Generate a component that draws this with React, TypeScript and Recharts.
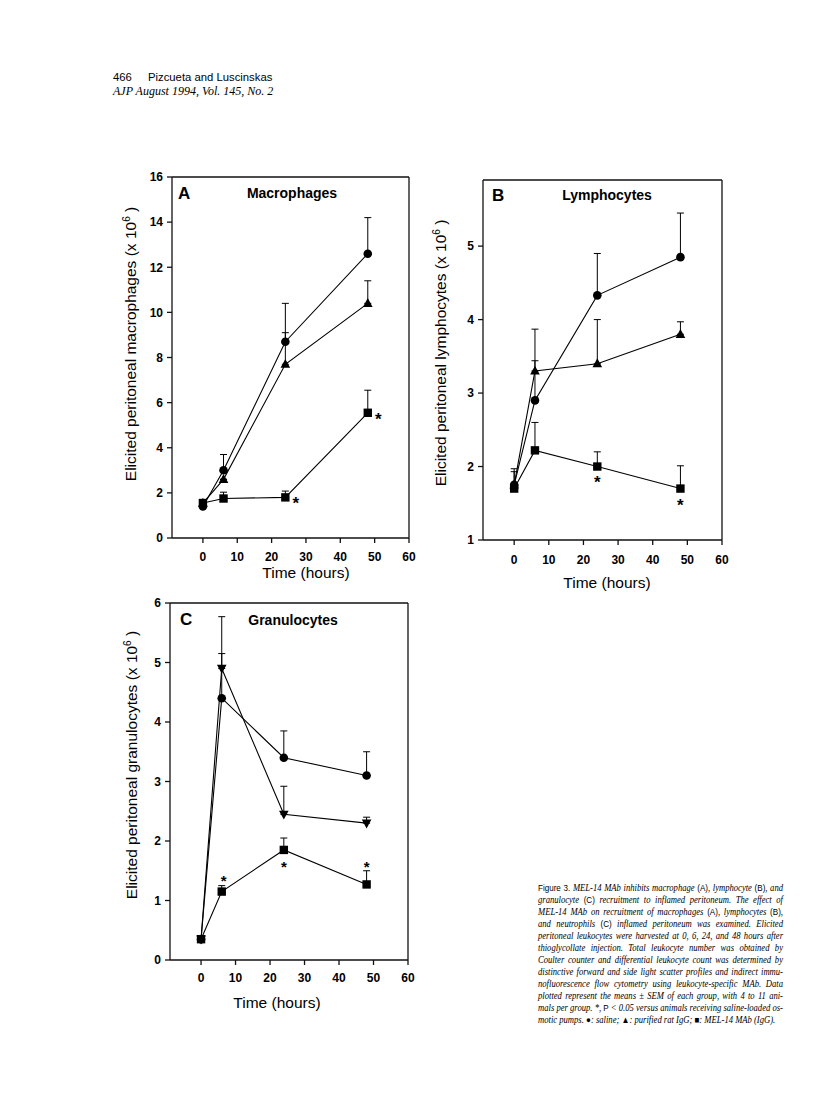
import React from 'react';
import { LineChart, Line, XAxis, YAxis, ErrorBar, LabelList } from 'recharts';

const hours = [0, 6, 24, 48];
const timeTicks = [0, 10, 20, 30, 40, 50, 60];

// A: macrophages (x 10^6)
const macTicks = [0, 2, 4, 6, 8, 10, 12, 14, 16];
const macSaline = [1.4, 3.0, 8.7, 12.6];
const macSalineSem = [0, 0.7, 1.7, 1.6];
const macIgG = [1.55, 2.6, 7.7, 10.4];
const macIgGSem = [0, 0, 1.4, 1.0];
const macMel = [1.55, 1.75, 1.8, 5.55];
const macMelSem = [0, 0.28, 0.28, 1.0];
const macMelSig = [false, false, true, true];

// B: lymphocytes (x 10^6)
const lymTicks = [1, 2, 3, 4, 5];
const lymSaline = [1.75, 2.9, 4.33, 4.85];
const lymSalineSem = [0.18, 0.54, 0.57, 0.6];
const lymIgG = [1.75, 3.3, 3.4, 3.8];
const lymIgGSem = [0.22, 0.57, 0.6, 0.17];
const lymMel = [1.7, 2.22, 2.0, 1.7];
const lymMelSem = [0, 0.38, 0.2, 0.31];
const lymMelSig = [false, false, true, true];

// C: granulocytes (x 10^6)
const graTicks = [0, 1, 2, 3, 4, 5, 6];
const graSaline = [0.35, 4.4, 3.4, 3.1];
const graSalineSem = [0, 0.75, 0.45, 0.4];
const graIgG = [0.35, 4.9, 2.45, 2.3];
const graIgGSem = [0, 0.87, 0.47, 0.1];
const graMel = [0.35, 1.15, 1.85, 1.27];
const graMelSem = [0, 0.1, 0.2, 0.23];
const graMelSig = [false, true, true, true];

const captionLines = [
  'Figure 3. MEL-14 MAb inhibits macrophage (A), lymphocyte (B), and',
  'granulocyte (C) recruitment to inflamed peritoneum. The effect of',
  'MEL-14 MAb on recruitment of macrophages (A), lymphocytes (B),',
  'and neutrophils (C) inflamed peritoneum was examined. Elicited',
  'peritoneal leukocytes were harvested at 0, 6, 24, and 48 hours after',
  'thioglycollate injection. Total leukocyte number was obtained by',
  'Coulter counter and differential leukocyte count was determined by',
  'distinctive forward and side light scatter profiles and indirect immu-',
  'nofluorescence flow cytometry using leukocyte-specific MAb. Data',
  'plotted represent the means \u00b1 SEM of each group, with 4 to 11 ani-',
  'mals per group. *, P < 0.05 versus animals receiving saline-loaded os-',
  'motic pumps. \u25cf: saline; \u25b2: purified rat IgG; \u25a0: MEL-14 MAb (IgG).',
];

const SANS = '"Liberation Sans", Arial, sans-serif';
const SERIF = '"Liberation Serif", "Times New Roman", serif';
const INK = '#111';

type Shape = 'circle' | 'triangle' | 'square' | 'down';
type Series = { key: string; values: number[]; sem: number[]; shape: Shape; sig?: boolean[] };

function buildRows(series: Series[]) {
  return hours.map((t, i) => {
    const row: any = { t };
    series.forEach((s) => {
      row[s.key] = s.values[i];
      row[s.key + 'Err'] = [0, s.sem[i]];
      if (s.sig) row[s.key + 'Sig'] = s.sig[i] ? '*' : '';
    });
    return row;
  });
}

const marker = (shape: Shape) => (p: any) => {
  const { cx, cy, index } = p;
  if (cx == null || cy == null) return <g key={index} />;
  if (shape === 'circle') return <circle key={index} cx={cx} cy={cy} r={4.3} fill="#000" />;
  if (shape === 'square') return <rect key={index} x={cx - 4.2} y={cy - 4.2} width={8.4} height={8.4} fill="#000" />;
  if (shape === 'triangle')
    return <path key={index} d={`M${cx},${cy - 5.3}L${cx + 4.8},${cy + 3.6}L${cx - 4.8},${cy + 3.6}Z`} fill="#000" />;
  return <path key={index} d={`M${cx},${cy + 5.3}L${cx + 4.8},${cy - 3.6}L${cx - 4.8},${cy - 3.6}Z`} fill="#000" />;
};

const starContent = (offsets: number[][], size: number) => (p: any) => {
  const { x, y, value, index } = p;
  if (!value) return null;
  const o = offsets[index] || [0, 0];
  return (
    <text key={index} x={x + o[0]} y={y + o[1] + size * 0.62} textAnchor="middle" fontSize={size}
      fontWeight={700} fontFamily={SANS} fill="#000">*</text>
  );
};

const tickStyle = { fill: '#000', fontSize: 12, fontWeight: 700, fontFamily: SANS };

type PanelProps = {
  plot: { x: number; y: number; w: number; h: number };
  yDomain: number[];
  yTicks: number[];
  series: Series[];
  starOffsets: number[][];
  starSize: number;
  xTickMargin: number;
};

function Panel({ plot, yDomain, yTicks, series, starOffsets, starSize, xTickMargin }: PanelProps) {
  const L = 60, T = 10, R = 12, B = 40;
  const rows = buildRows(series);
  return (
    <div style={{ position: 'absolute', left: plot.x - L, top: plot.y - T }}>
      <LineChart width={plot.w + L + R} height={plot.h + T + B} data={rows}
        margin={{ top: T, right: R, left: 0, bottom: 0 }}>
        <XAxis dataKey="t" type="number" domain={[-9, 60]} ticks={timeTicks} interval={0} allowDataOverflow
          height={B} tickSize={5} tickMargin={xTickMargin} stroke={INK} strokeWidth={1.3} tick={tickStyle} />
        <XAxis xAxisId="top" orientation="top" type="number" domain={[-9, 60]} mirror
          tick={false} tickLine={false} stroke={INK} strokeWidth={1.3} />
        <YAxis type="number" domain={yDomain} ticks={yTicks} interval={0} allowDataOverflow width={L}
          tickSize={5} tickMargin={4} stroke={INK} strokeWidth={1.3} tick={tickStyle} />
        <YAxis yAxisId="right" orientation="right" type="number" domain={yDomain} ticks={yTicks} interval={0}
          mirror tick={false} tickSize={5} stroke={INK} strokeWidth={1.3} />
        {series.map((s) => (
          <Line key={s.key} dataKey={s.key} type="linear" stroke="#000" strokeWidth={1.1}
            dot={marker(s.shape)} activeDot={false} isAnimationActive={false}>
            <ErrorBar dataKey={s.key + 'Err'} direction="y" width={3.5} stroke="#000" strokeWidth={1} />
            {s.sig ? <LabelList dataKey={s.key + 'Sig'} content={starContent(starOffsets, starSize)} /> : null}
          </Line>
        ))}
      </LineChart>
    </div>
  );
}

function YLabel({ cx, cy, text }: { cx: number; cy: number; text: string }) {
  return (
    <div style={{ position: 'absolute', left: cx, top: cy, transform: 'translate(-50%, -50%) rotate(-90deg)',
      whiteSpace: 'nowrap', fontFamily: SANS, fontSize: 15.5, lineHeight: '18px', color: '#000' }}>
      {text} (x 10<sup style={{ fontSize: '0.65em', verticalAlign: '0.55em', lineHeight: 0 }}>6</sup> )
    </div>
  );
}

function Abs({ x, y, size, bold, center, children, family }: any) {
  return (
    <div style={{ position: 'absolute', left: x, top: y - size / 2, lineHeight: 1, fontSize: size,
      fontWeight: bold ? 700 : 400, fontFamily: family || SANS, whiteSpace: 'nowrap', color: '#000',
      transform: center ? 'translateX(-50%)' : undefined }}>
      {children}
    </div>
  );
}

function CaptionLine({ text }: { text: string }) {
  const parts = text.split(/(\([ABC]\)|Figure 3\.|\u25cf|\u25b2|\u25a0|\bP\b)/);
  return (
    <>
      {parts.map((p, i) =>
        /^(\([ABC]\)|Figure 3\.|\u25cf|\u25b2|\u25a0|P)$/.test(p)
          ? <span key={i} style={{ fontFamily: SANS, fontStyle: 'normal', fontSize: 9.4 }}>{p}</span>
          : <span key={i}>{p}</span>
      )}
    </>
  );
}

const CAP_SCALE = 0.86;

export default function App() {
  return (
    <div style={{ position: 'absolute', left: 0, top: 0, width: 816, height: 1107, background: '#fff' }}>
      <Abs x={113} y={78} size={11.3}>466</Abs>
      <Abs x={148} y={78} size={11.3}>Pizcueta and Luscinskas</Abs>
      <div style={{ position: 'absolute', left: 113, top: 85, fontFamily: SERIF, fontStyle: 'italic',
        fontSize: 12, lineHeight: '12px', whiteSpace: 'nowrap' }}>
        AJP August 1994, Vol. 145, No. 2
      </div>

      <Panel plot={{ x: 172, y: 177, w: 237, h: 361 }} yDomain={[0, 16]} yTicks={macTicks} xTickMargin={9}
        starSize={17} starOffsets={[[0, 0], [0, 0], [10.5, 1.3], [10.5, 1.3]]}
        series={[
          { key: 'macIgG', values: macIgG, sem: macIgGSem, shape: 'triangle' },
          { key: 'macSaline', values: macSaline, sem: macSalineSem, shape: 'circle' },
          { key: 'macMel', values: macMel, sem: macMelSem, shape: 'square', sig: macMelSig },
        ]} />
      <YLabel cx={131} cy={344} text="Elicited peritoneal macrophages" />
      <Abs x={178} y={193} size={17} bold>A</Abs>
      <Abs x={292} y={193} size={14} bold center>Macrophages</Abs>
      <Abs x={306} y={573} size={15.5} center>Time (hours)</Abs>

      <Panel plot={{ x: 483, y: 180, w: 239, h: 360 }} yDomain={[1, 5.9]} yTicks={lymTicks} xTickMargin={10}
        starSize={17} starOffsets={[[0, 0], [0, 0], [0, 11], [0, 12]]}
        series={[
          { key: 'lymIgG', values: lymIgG, sem: lymIgGSem, shape: 'triangle' },
          { key: 'lymSaline', values: lymSaline, sem: lymSalineSem, shape: 'circle' },
          { key: 'lymMel', values: lymMel, sem: lymMelSem, shape: 'square', sig: lymMelSig },
        ]} />
      <YLabel cx={441} cy={353} text="Elicited peritoneal lymphocytes" />
      <Abs x={492} y={195} size={17} bold>B</Abs>
      <Abs x={607} y={195} size={14} bold center>Lymphocytes</Abs>
      <Abs x={607} y={583} size={15.5} center>Time (hours)</Abs>

      <Panel plot={{ x: 170, y: 603, w: 238, h: 357 }} yDomain={[0, 6]} yTicks={graTicks} xTickMargin={8}
        starSize={15} starOffsets={[[0, 0], [2, -15], [0, 13], [0, -22]]}
        series={[
          { key: 'graIgG', values: graIgG, sem: graIgGSem, shape: 'down' },
          { key: 'graSaline', values: graSaline, sem: graSalineSem, shape: 'circle' },
          { key: 'graMel', values: graMel, sem: graMelSem, shape: 'square', sig: graMelSig },
        ]} />
      <YLabel cx={132} cy={765} text="Elicited peritoneal granulocytes" />
      <Abs x={180} y={619} size={17} bold>C</Abs>
      <Abs x={293} y={620} size={14} bold center>Granulocytes</Abs>
      <Abs x={277} y={1003} size={15.5} center>Time (hours)</Abs>

      {captionLines.map((line, i) => {
        const last = i === captionLines.length - 1;
        return (
          <div key={i} style={{ position: 'absolute', left: 538, top: 882 + i * 12, width: 245 / CAP_SCALE,
            transform: `scaleX(${CAP_SCALE})`, transformOrigin: 'left top',
            fontFamily: SERIF, fontStyle: 'italic', fontSize: 10, lineHeight: '12px', whiteSpace: 'nowrap',
            textAlign: last ? 'left' : 'justify', textAlignLast: last ? 'left' : 'justify', color: '#000' }}>
            <CaptionLine text={line} />
          </div>
        );
      })}
    </div>
  );
}
